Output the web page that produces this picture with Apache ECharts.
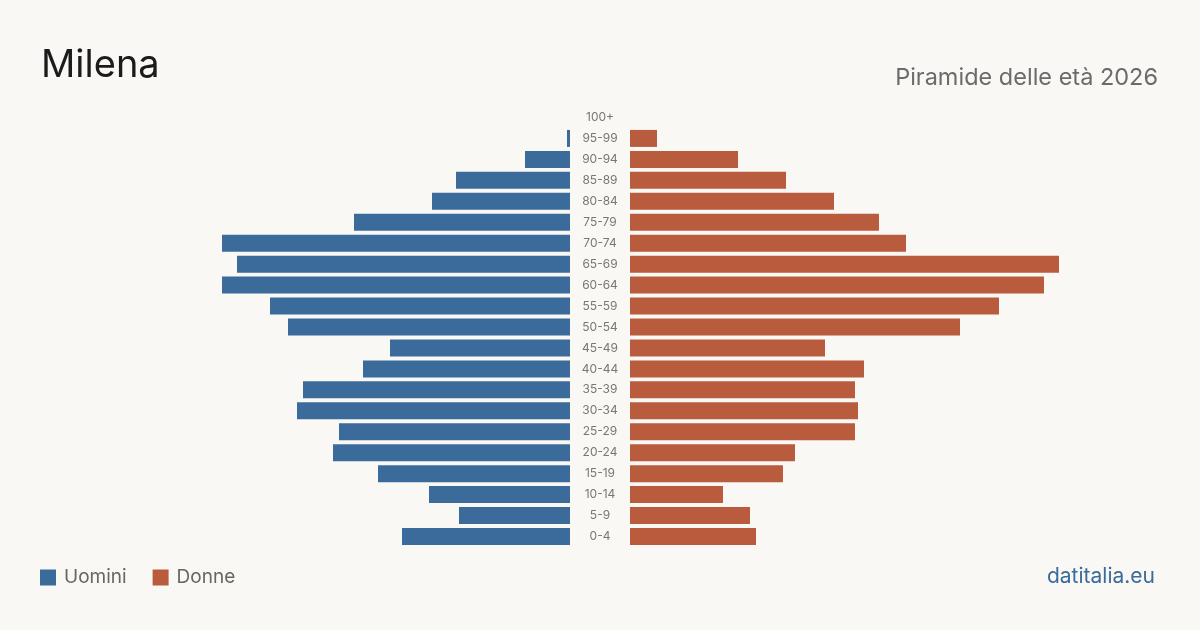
<!DOCTYPE html>
<html>
<head>
<meta charset="utf-8">
<script src="https://cdn.jsdelivr.net/npm/echarts@6/dist/echarts.min.js"></script>
<style>
body{
	margin:0;
	background-color:#f9f8f4;
}
#chart{
	width:1200px;
	height:630px;
}
</style>
</head>
<body>
<div id="chart"></div>
<script type="text/javascript">
var ageGroups = ['0-4','5-9','10-14','15-19','20-24','25-29','30-34','35-39','40-44','45-49',
	'50-54','55-59','60-64','65-69','70-74','75-79','80-84','85-89','90-94','95-99','100+'];
var uomini = [56, 37, 47, 64, 79, 77, 91, 89, 69, 60,
	94, 100, 116, 111, 116, 72, 46, 38, 15, 1, 0];
var donne = [42, 40, 31, 51, 55, 75, 76, 75, 78, 65,
	110, 123, 138, 143, 92, 83, 68, 52, 36, 9, 0];
var maxVal = 150;

var blue = '#3b6b9b';
var orange = '#b95c3d';
var font = 'Inter, "Noto Sans", sans-serif';

var chart = echarts.init(document.getElementById('chart'));
chart.setOption({
	backgroundColor: '#f9f8f4',
	animation: false,
	textStyle: { fontFamily: font },
	title: [{
		text: 'Milena',
		left: 41,
		top: 47,
		padding: 0,
		textStyle: { color: '#1b1b1b', fontSize: 38, fontWeight: 'normal', fontFamily: font }
	}, {
		text: 'Piramide delle età 2026',
		right: 42,
		top: 66,
		padding: 0,
		textStyle: { color: '#6b6b6b', fontSize: 23.5, fontWeight: 'normal', fontFamily: font }
	}],
	legend: {
		left: 40,
		top: 568,
		padding: 0,
		itemWidth: 16,
		itemHeight: 16,
		itemGap: 26,
		icon: 'rect',
		data: ['Uomini', 'Donne'],
		textStyle: { color: '#666', fontSize: 19, fontFamily: font, padding: [0, 0, 0, 3] }
	},
	graphic: [{
		type: 'text',
		right: 45,
		top: 566,
		style: { text: 'datitalia.eu', fill: blue, fontSize: 21, fontFamily: font }
	}],
	grid: [
		{ left: 120, right: 630, top: 107, bottom: 83 },
		{ left: 630, right: 120, top: 107, bottom: 83 }
	],
	xAxis: [
		{ gridIndex: 0, type: 'value', min: 0, max: maxVal, inverse: true, show: false },
		{ gridIndex: 1, type: 'value', min: 0, max: maxVal, show: false }
	],
	yAxis: [
		{
			gridIndex: 0, type: 'category', data: ageGroups, position: 'right',
			axisLine: { show: false }, axisTick: { show: false },
			axisLabel: { align: 'center', margin: 30, color: '#777', fontSize: 12, fontFamily: font }
		},
		{
			gridIndex: 1, type: 'category', data: ageGroups,
			axisLine: { show: false }, axisTick: { show: false }, axisLabel: { show: false }
		}
	],
	series: [
		{
			name: 'Uomini', type: 'bar', xAxisIndex: 0, yAxisIndex: 0,
			data: uomini, barWidth: 17, itemStyle: { color: blue }
		},
		{
			name: 'Donne', type: 'bar', xAxisIndex: 1, yAxisIndex: 1,
			data: donne, barWidth: 17, itemStyle: { color: orange }
		}
	]
});
</script>
</body>
</html>
